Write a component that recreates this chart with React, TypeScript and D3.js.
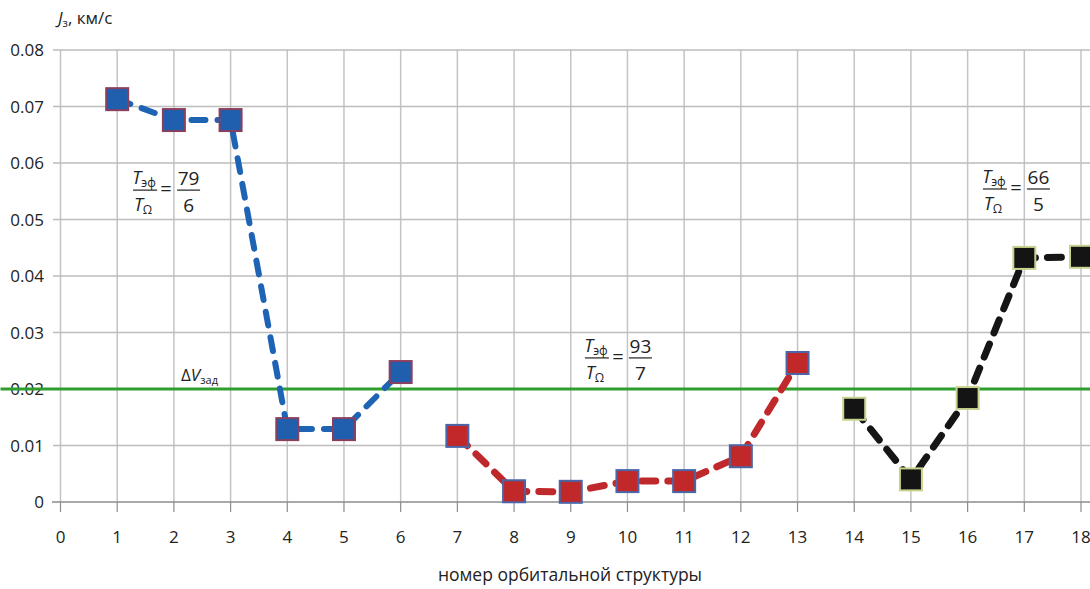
import * as d3 from 'd3'

// номер орбитальной структуры
const blueX = [1, 2, 3, 4, 5, 6]
const blueY = [0.0713, 0.0676, 0.0676, 0.0129, 0.0129, 0.023]
const redX = [7, 8, 9, 10, 11, 12, 13]
const redY = [0.0117, 0.0019, 0.0018, 0.0037, 0.0037, 0.0081, 0.0246]
const blackX = [14, 15, 16, 17, 18]
const blackY = [0.0165, 0.004, 0.0184, 0.0432, 0.0434]
const dvTarget = 0.02
const xTicks = d3.range(0, 19)
const yTicks = [0, 0.01, 0.02, 0.03, 0.04, 0.05, 0.06, 0.07, 0.08]
const ratios = [
  { num: '79', den: '6', at: [1.28, 0.0552] },
  { num: '93', den: '7', at: [9.25, 0.0255] },
  { num: '66', den: '5', at: [16.27, 0.0554] },
]

const W = 1090
const H = 589
const font = '"Open Sans", "Noto Sans", sans-serif'

const x = d3.scaleLinear().domain([0, 18]).range([60.5, 1081])
const y = d3.scaleLinear().domain([0, 0.08]).range([502, 50])

const series = [
  { xs: blueX, ys: blueY, line: '#1f63b5', fill: '#1f5fae', stroke: '#8b3f5e', width: 6 },
  { xs: redX, ys: redY, line: '#c0292c', fill: '#c0282a', stroke: '#4b66a6', width: 7 },
  { xs: blackX, ys: blackY, line: '#151515', fill: '#141414', stroke: '#c6d58e', width: 7 },
]

function Ratio({ px, py, num, den }: { px: number; py: number; num: string; den: string }) {
  return (
    <g fontFamily={font} fill="#222">
      <text x={px + 11} y={py - 6} fontSize={18} textAnchor="middle">
        <tspan fontStyle="italic">T</tspan>
        <tspan fontSize={12} dy={3}>эф</tspan>
      </text>
      <line x1={px} x2={px + 24} y1={py} y2={py} stroke="#222" strokeWidth={1.2} />
      <text x={px + 10} y={py + 21} fontSize={18} textAnchor="middle">
        <tspan fontStyle="italic">T</tspan>
        <tspan fontSize={12} dy={3}>Ω</tspan>
      </text>
      <text x={px + 33} y={py + 6} fontSize={20} textAnchor="middle">=</text>
      <line x1={px + 44} x2={px + 67} y1={py} y2={py} stroke="#222" strokeWidth={1.2} />
      <text x={px + 55.5} y={py - 5} fontSize={19} textAnchor="middle">{num}</text>
      <text x={px + 55.5} y={py + 22} fontSize={19} textAnchor="middle">{den}</text>
    </g>
  )
}

export default function App() {
  const line = d3.line<number>()
  return (
    <svg width={W} height={H} style={{ position: 'absolute', left: 0, top: 0, background: '#fff' }}>
      {/* grid */}
      <g>
        {xTicks.map(t => (
          <line key={'vx' + t} x1={x(t)} x2={x(t)} y1={y(0.08)} y2={y(0)} stroke="#c4c4c4" strokeWidth={1.5} />
        ))}
        {yTicks.filter(t => t > 0).map(t => (
          <line key={'hy' + t} x1={53} x2={W} y1={y(t)} y2={y(t)} stroke="#bdbdbd" strokeWidth={1.5} />
        ))}
        <line x1={52} x2={W} y1={y(0)} y2={y(0)} stroke="#8c8c8c" strokeWidth={1.5} />
        {xTicks.map(t => (
          <line key={'tk' + t} x1={x(t)} x2={x(t)} y1={y(0)} y2={y(0) + 10} stroke="#8c8c8c" strokeWidth={1.2} />
        ))}
      </g>

      {/* axis labels */}
      <g fontFamily={font} fontSize={17} fill="#222">
        {yTicks.map(t => (
          <text key={'yl' + t} x={44} y={y(t) + 6} textAnchor="end">
            {t === 0 ? '0' : t.toFixed(2)}
          </text>
        ))}
        {xTicks.map(t => (
          <text key={'xl' + t} x={x(t)} y={543} textAnchor="middle">{t}</text>
        ))}
        <text x={570} y={581} textAnchor="middle" fontSize={17.5}>номер орбитальной структуры</text>
        <text x={58} y={24} fontSize={17}>
          <tspan fontStyle="italic">J</tspan>
          <tspan fontSize={11} dy={3}>з</tspan>
          <tspan dy={-3}>, км/с</tspan>
        </text>
      </g>

      {/* target level */}
      <line x1={x(0) - 60} x2={W} y1={y(dvTarget)} y2={y(dvTarget)} stroke="#2f9e2f" strokeWidth={3} />
      <text x={181} y={381} fontFamily={font} fontSize={17} fill="#222">
        <tspan>Δ</tspan>
        <tspan fontStyle="italic">V</tspan>
        <tspan fontSize={11} dy={3}>зад</tspan>
      </text>

      {/* series */}
      {series.map((s, i) => (
        <path
          key={'ln' + i}
          d={line(s.xs.map((v, j) => [x(v), y(s.ys[j])]) as any) || ''}
          fill="none"
          stroke={s.line}
          strokeWidth={s.width}
          strokeDasharray="14 12"
          strokeLinecap="round"
        />
      ))}
      {series.map((s, i) => (
        <g key={'mk' + i}>
          {s.xs.map((v, j) => (
            <rect
              key={j}
              x={x(v) - 11}
              y={y(s.ys[j]) - 11}
              width={22}
              height={22}
              fill={s.fill}
              stroke={s.stroke}
              strokeWidth={2}
            />
          ))}
        </g>
      ))}

      {/* ratio annotations */}
      {ratios.map((r, i) => (
        <Ratio key={i} px={x(r.at[0])} py={y(r.at[1])} num={r.num} den={r.den} />
      ))}
    </svg>
  )
}
